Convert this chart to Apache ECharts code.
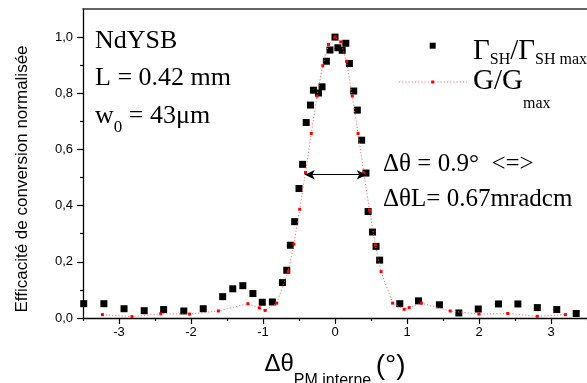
<!DOCTYPE html>
<html>
<head>
<meta charset="utf-8">
<script src="https://cdn.jsdelivr.net/npm/echarts@6/dist/echarts.min.js"></script>
<style>
  html, body { margin: 0; padding: 0; background: #fff; }
  #chart { width: 587px; height: 383px; }
</style>
</head>
<body>
<div id="chart"></div>
<script>
// measured points (black squares)
const thetaMeas = [-3.49, -3.21, -2.93, -2.65, -2.38, -2.10, -1.83, -1.56, -1.42, -1.28, -1.14, -1.01, -0.87,
  -0.73, -0.67, -0.62, -0.56, -0.50, -0.45, -0.40, -0.34, -0.30, -0.23, -0.18, -0.12, -0.07, 0.00, 0.04,
  0.10, 0.15, 0.20, 0.26, 0.31, 0.37, 0.43, 0.46, 0.52, 0.57, 0.62, 0.90, 1.16, 1.45, 1.72, 1.99, 2.27,
  2.54, 2.81, 3.08, 3.35];
const effMeas = [0.051, 0.051, 0.033, 0.026, 0.030, 0.025, 0.033, 0.076, 0.104, 0.115, 0.087, 0.056, 0.057,
  0.126, 0.170, 0.259, 0.343, 0.461, 0.547, 0.696, 0.758, 0.811, 0.801, 0.823, 0.914, 0.954, 1.000, 0.962,
  0.953, 0.978, 0.906, 0.808, 0.740, 0.633, 0.516, 0.379, 0.306, 0.255, 0.206, 0.051, 0.061, 0.047, 0.018,
  0.032, 0.050, 0.050, 0.037, 0.030, 0.016];

// theoretical curve (red dots, dotted line)
const thetaTheo = [-3.23, -2.82, -2.42, -2.02, -1.62, -1.21, -1.05, -0.97, -0.81, -0.65, -0.57, -0.49, -0.41,
  -0.33, -0.25, -0.17, -0.09, 0.00, 0.08, 0.16, 0.24, 0.32, 0.40, 0.48, 0.56, 0.64, 0.80, 0.96, 1.03, 1.20,
  1.60, 2.00, 2.40, 2.81, 3.20];
const effTheo = [0.012, 0.005, 0.015, 0.014, 0.025, 0.051, 0.036, 0.027, 0.053, 0.166, 0.263, 0.387, 0.518,
  0.657, 0.790, 0.898, 0.974, 1.000, 0.983, 0.914, 0.790, 0.657, 0.517, 0.384, 0.260, 0.165, 0.053, 0.031,
  0.037, 0.053, 0.025, 0.014, 0.016, 0.006, 0.012];

// ticks
const xMajor = [-3, -2, -1, 0, 1, 2, 3];
const xMinor = [-3.5, -2.5, -1.5, -0.5, 0.5, 1.5, 2.5, 3.5];
const yMajor = [0, 0.2, 0.4, 0.6, 0.8, 1.0];
const yMinor = [0.1, 0.3, 0.5, 0.7, 0.9];

// FWHM arrow end points
const fwhmFrom = [-0.42, 0.51];
const fwhmTo = [0.44, 0.51];

const serif = '"Liberation Serif", "Times New Roman", serif';
const sans = '"Liberation Sans", Arial, sans-serif';
const xMin = -3.5, xMax = 3.5, yMin = 0, yMax = 1.1;

const chart = echarts.init(document.getElementById('chart'));

const axisLine = { show: true, onZero: false, lineStyle: { color: '#000', width: 1.3 } };
const hiddenLine = { show: false, onZero: false };

const option = {
  animation: false,
  backgroundColor: '#fff',
  grid: { left: 83, right: 0, top: 9, bottom: 65, containLabel: false, outerBoundsMode: 'none' },
  xAxis: [
    {
      type: 'value', min: xMin, max: xMax, position: 'bottom',
      axisLine: axisLine,
      axisTick: { customValues: xMajor, length: 6, lineStyle: { color: '#000', width: 1.2 } },
      axisLabel: { customValues: xMajor, fontSize: 13, fontFamily: sans, color: '#000', margin: 8 },
      splitLine: { show: false },
      name: '{d|Δθ}{s|PM interne }{p|(°)}',
      nameLocation: 'middle',
      nameGap: 34,
      nameMoveOverlap: false,
      nameTextStyle: {
        fontFamily: sans, color: '#000',
        rich: {
          d: { fontSize: 24, lineHeight: 24, fontFamily: sans, verticalAlign: 'top' },
          s: { fontSize: 16, lineHeight: 37, fontFamily: sans, verticalAlign: 'bottom' },
          p: { fontSize: 28, lineHeight: 20, fontFamily: sans, verticalAlign: 'top' }
        }
      }
    },
    {
      type: 'value', min: xMin, max: xMax, position: 'bottom',
      axisLine: hiddenLine,
      axisTick: { customValues: xMinor, length: 3, lineStyle: { color: '#000', width: 1.2 } },
      axisLabel: { show: false },
      splitLine: { show: false }
    },
    {
      type: 'value', min: xMin, max: xMax, position: 'top',
      axisLine: { show: true, onZero: false, lineStyle: { color: '#333', width: 1.5 } },
      axisTick: { show: false },
      axisLabel: { show: false },
      splitLine: { show: false }
    }
  ],
  yAxis: [
    {
      type: 'value', min: yMin, max: yMax, position: 'left',
      axisLine: axisLine,
      axisTick: { customValues: yMajor, length: 6, lineStyle: { color: '#000', width: 1.2 } },
      axisLabel: {
        customValues: yMajor, fontSize: 13, fontFamily: sans, color: '#000', margin: 10,
        formatter: v => v.toFixed(1).replace('.', ',')
      },
      splitLine: { show: false },
      name: 'Efficacité de conversion normalisée',
      nameLocation: 'middle',
      nameGap: 52,
      nameMoveOverlap: false,
      nameTextStyle: { fontSize: 17, fontFamily: sans, color: '#000', padding: [0, 31, 0, 0] }
    },
    {
      type: 'value', min: yMin, max: yMax, position: 'left',
      axisLine: hiddenLine,
      axisTick: { customValues: yMinor, length: 3, lineStyle: { color: '#000', width: 1.2 } },
      axisLabel: { show: false },
      splitLine: { show: false }
    }
  ],
  series: [
    {
      name: 'meas',
      type: 'scatter',
      xAxisIndex: 0, yAxisIndex: 0,
      symbol: 'rect',
      symbolSize: 7,
      itemStyle: { color: '#000', opacity: 1 },
      data: thetaMeas.map((t, i) => [t, effMeas[i]])
    },
    {
      name: 'theo',
      type: 'line',
      xAxisIndex: 0, yAxisIndex: 0,
      symbol: 'rect',
      symbolSize: 3,
      showAllSymbol: true,
      itemStyle: { color: '#ff0000' },
      lineStyle: { color: '#ff6a6a', width: 1, type: [1.2, 2] },
      data: thetaTheo.map((t, i) => [t, effTheo[i]]),
      markLine: {
        silent: true,
        symbol: ['arrow', 'arrow'],
        symbolSize: [7, 10],
        label: { show: false },
        lineStyle: { color: '#000', width: 1.2, type: 'solid' },
        data: [[{ coord: fwhmFrom }, { coord: fwhmTo }]]
      }
    }
  ],
  graphic: [
    // sample description
    { type: 'text', style: { x: 95, y: 28, text: 'NdYSB', font: '26px ' + serif, fill: '#000', verticalAlign: 'top' } },
    { type: 'text', style: { x: 95, y: 65.5, text: 'L = 0.42 mm', font: '26px ' + serif, fill: '#000', verticalAlign: 'top' } },
    {
      type: 'text',
      style: {
        x: 95, y: 103, fill: '#000', verticalAlign: 'top',
        text: '{m|w}{s|0}{m| = 43μm}',
        rich: {
          m: { fontSize: 26, lineHeight: 26, fontFamily: serif, verticalAlign: 'top' },
          s: { fontSize: 17, lineHeight: 33, fontFamily: serif, verticalAlign: 'bottom' }
        }
      }
    },
    // acceptance annotation
    { type: 'text', style: { x: 383, y: 152.3, text: 'Δθ = 0.9°  <=>', font: '25px ' + serif, fill: '#000', verticalAlign: 'top' } },
    { type: 'text', style: { x: 383, y: 187.3, text: 'ΔθL= 0.67mradcm', font: '25px ' + serif, fill: '#000', verticalAlign: 'top' } },
    // legend
    { type: 'rect', shape: { x: 429.7, y: 42.7, width: 6, height: 6 }, style: { fill: '#000' } },
    {
      type: 'text',
      style: {
        x: 473, y: 37, fill: '#000', verticalAlign: 'top',
        text: '{m|Γ}{s|SH}{m|/Γ}{s|SH max}',
        rich: {
          m: { fontSize: 29, lineHeight: 29, fontFamily: serif, verticalAlign: 'top' },
          s: { fontSize: 16, lineHeight: 31, fontFamily: serif, verticalAlign: 'bottom' }
        }
      }
    },
    { type: 'line', shape: { x1: 399, y1: 82, x2: 467, y2: 82 }, style: { stroke: '#ff6a6a', lineWidth: 1, lineDash: [1.2, 2] } },
    { type: 'rect', shape: { x: 431.2, y: 80.5, width: 3, height: 3 }, style: { fill: '#ff0000' } },
    {
      type: 'text',
      style: {
        x: 473, y: 67.3, fill: '#000', verticalAlign: 'top',
        text: '{m|G/G}{s|max}',
        rich: {
          m: { fontSize: 29, lineHeight: 29, fontFamily: serif, verticalAlign: 'top' },
          s: { fontSize: 16, lineHeight: 44, fontFamily: serif, verticalAlign: 'bottom' }
        }
      }
    }
  ]
};

chart.setOption(option);
</script>
</body>
</html>
